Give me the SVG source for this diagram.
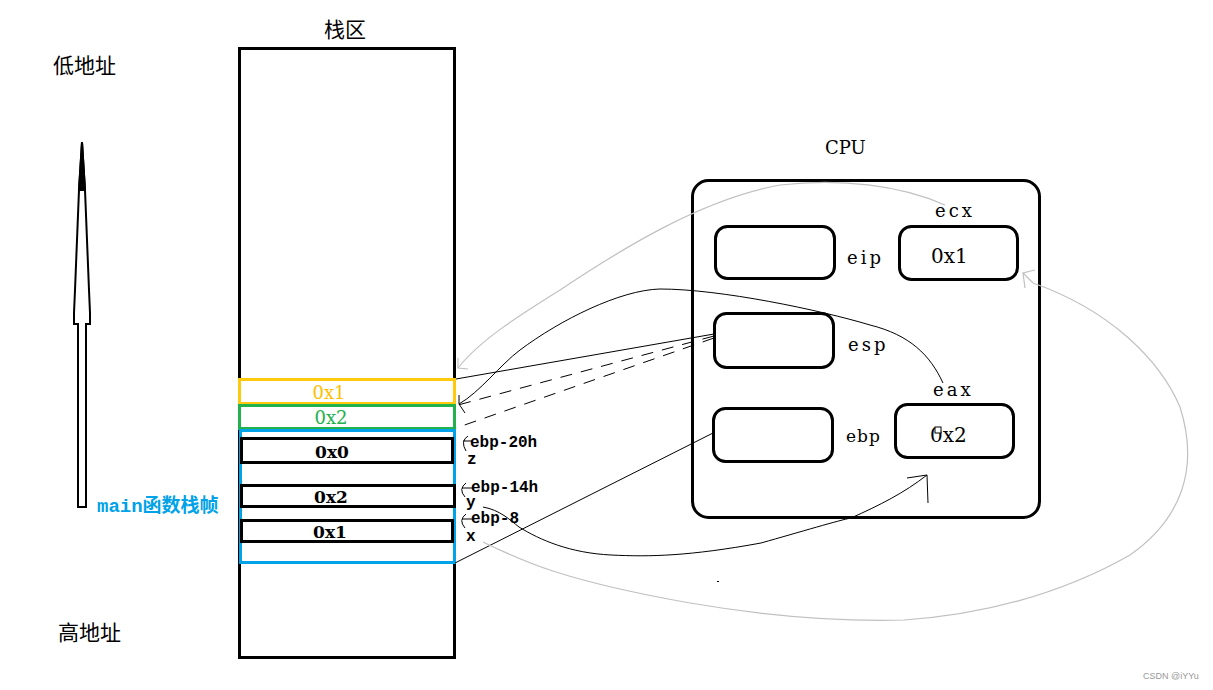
<svg xmlns="http://www.w3.org/2000/svg" width="1213" height="690" viewBox="0 0 1213 690">
<style>
.box{fill:none;stroke:#000;stroke-width:3}
.t{font-family:"DejaVu Serif",serif;font-size:18px;fill:#000}
.b{font-weight:bold;font-size:17px}
.r{font-family:"DejaVu Serif",serif;font-size:18px;fill:#000;letter-spacing:3px}
.lab{font-family:"Liberation Mono",monospace;font-size:16px;font-weight:bold;fill:#000}
.cn{font-family:"Noto Sans CJK SC",sans-serif;font-size:21px;fill:#000}
.thin{fill:none;stroke:#000;stroke-width:1}
.gray{fill:none;stroke:#c0c0c0;stroke-width:1.2}
.dash{fill:none;stroke:#000;stroke-width:1;stroke-dasharray:12 9}
</style>
<rect width="1213" height="690" fill="#fff"/>
<g id="labels">
<text class="cn" x="53" y="73">低地址</text>
<text class="cn" x="58" y="640">高地址</text>
<text class="cn" x="324" y="37">栈区</text>
<text x="97" y="512" style="font-family:'Liberation Mono','Noto Sans CJK SC',monospace;font-size:19px;font-weight:bold;fill:#00A2E8">main函数栈帧</text>
<text class="t" x="825" y="154">CPU</text>
</g>
<g id="direction-arrow">
<polygon points="82,142 85,190 86,215 87,240 88,265 89,290 90,313 90,324 86,324 86,507 78,507 78,324 74,324 74,313 75,290 76,265 77,240 78,215 79,190" fill="#fff" stroke="#000" stroke-width="2"/>
<polygon points="82,142 85,190 79,190" fill="#000" stroke="#000" stroke-width="2"/>
</g>
<g id="stack">
<rect class="box" x="239.5" y="48.5" width="215" height="609"/>
</g>
<g id="slot-yellow">
<rect x="239.5" y="379.5" width="215" height="24" fill="none" stroke="#FFC90E" stroke-width="3"/>
<text class="t" x="329" y="399" text-anchor="middle" style="fill:#FFC000">0x1</text>
</g>
<g id="slot-green">
<rect x="239.5" y="405.5" width="215" height="23" fill="none" stroke="#22B14C" stroke-width="3"/>
<text class="t" x="331" y="424" text-anchor="middle" style="fill:#22B14C">0x2</text>
</g>
<g id="main-frame">
<rect x="240.5" y="430.5" width="214" height="132" fill="none" stroke="#00A2E8" stroke-width="3"/>
</g>
<g id="var-z">
<rect class="box" x="241.5" y="438.5" width="211" height="24"/>
<text class="t b" x="332" y="458" text-anchor="middle">0x0</text>
<text class="lab" x="470" y="447">ebp-20h</text>
<text class="lab" x="467" y="464">z</text>
</g>
<g id="var-y">
<rect class="box" x="241.5" y="485.5" width="213" height="21"/>
<text class="t b" x="331" y="503" text-anchor="middle">0x2</text>
<text class="lab" x="471" y="492">ebp-14h</text>
<text class="lab" x="466" y="507">y</text>
</g>
<g id="var-x">
<rect class="box" x="241.5" y="520.5" width="211" height="21"/>
<text class="t b" x="330" y="538" text-anchor="middle">0x1</text>
<text class="lab" x="471" y="523">ebp-8</text>
<text class="lab" x="466" y="541">x</text>
</g>
<g id="cpu">
<rect class="box" x="692.5" y="180.5" width="347" height="337" rx="16"/>
</g>
<g id="eip">
<rect class="box" x="715.5" y="226.5" width="119" height="52" rx="12"/>
<text class="r" x="847" y="264">eip</text>
</g>
<g id="ecx">
<rect class="box" x="899.5" y="226.5" width="118" height="53" rx="12"/>
<text class="r" x="935" y="217">ecx</text>
<text class="t" x="931" y="263" style="font-size:20px">0x1</text>
</g>
<g id="esp">
<rect class="box" x="714.5" y="313.5" width="119" height="54" rx="12"/>
<text class="r" x="848" y="351">esp</text>
</g>
<g id="eax">
<text class="r" x="933" y="396">eax</text>
<rect class="box" x="895.5" y="404.5" width="118" height="53" rx="12"/>
<text class="t" x="930" y="442" style="font-size:20px">0x2</text>
<rect x="935" y="427" width="6" height="6" fill="#fff" stroke="#000" stroke-width="1"/>
</g>
<g id="ebp">
<rect class="box" x="713.5" y="408.5" width="119" height="53" rx="12"/>
<text class="r" x="846" y="442" style="font-size:17px;letter-spacing:1px">ebp</text>
</g>
<g id="connectors">
<line class="thin" x1="714" y1="334" x2="456" y2="379"/>
<line class="dash" x1="714" y1="336" x2="458" y2="405"/>
<line class="dash" x1="714" y1="338" x2="456" y2="428"/>
<line class="thin" x1="713" y1="433" x2="455" y2="563"/>
<path class="thin" d="M943,383 C930,355 910,335 870,325 C820,310 720,289 660,289 C620,290 560,320 520,350 C500,365 480,392 459,404"/>
<path class="thin" d="M459,395 L459,404 L465,413"/>
<path class="gray" d="M945,205 C900,185 840,178 780,185 C700,200 620,250 560,290 C520,315 480,340 458,368"/>
<path class="gray" d="M458,358 L458,368 L468,369"/>
<path class="thin" d="M483,507 C500,510 510,520 519,527 C540,540 570,553 611,555 C650,557 690,556 761,543 C800,532 840,520 851,518 C880,505 904,493 927,475"/>
<path class="thin" d="M907,478 L927,475 L928,503"/>
<path class="gray" d="M483,542 C520,560 560,580 690,603 C760,615 830,622 904,620 C980,615 1060,595 1130,555 C1180,520 1200,470 1180,407 C1160,360 1110,310 1033,283 L1023,273"/>
<path class="gray" d="M1035,270 L1023,273 L1025,288"/>
<path class="thin" d="M472,441 L463,441 M468,436 Q460,441 466,451"/>
<path class="thin" d="M473,488 L462,488 M466,483 Q458,489 465,497"/>
<path class="thin" d="M473,519 L462,519 M466,514 Q458,520 465,528"/>
<rect x="717" y="581" width="2" height="1" fill="#000"/>
</g>
<text x="1143" y="679" style="font-family:'Liberation Sans',sans-serif;font-size:9px;fill:#999">CSDN @iYYu</text>
</svg>
